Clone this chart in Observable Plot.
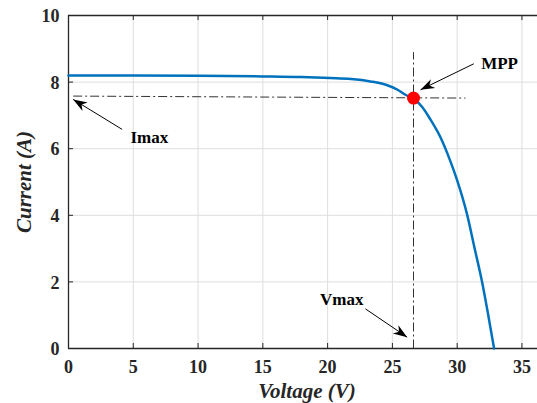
<!DOCTYPE html>
<html><head><meta charset="utf-8">
<script src="https://cdn.jsdelivr.net/npm/d3@7"></script>
<script src="https://cdn.jsdelivr.net/npm/@observablehq/plot@0.6"></script>
<style>
html,body{margin:0;padding:0;background:#fff;overflow:hidden}
</style>
</head><body><div id="chart"></div>
<script>
// I-V curve of the PV module
const voltage = [0, 5, 10, 15, 18, 20.2, 21.8, 23.3, 24.5, 25.4, 26.0, 26.65, 27.3, 27.9, 28.7, 29.45, 30, 30.75, 31.35, 31.9, 32.4, 32.85];
const current = [8.2, 8.2, 8.19, 8.17, 8.15, 8.12, 8.09, 8.02, 7.92, 7.77, 7.62, 7.5, 7.25, 6.9, 6.35, 5.65, 5.05, 4.05, 3.0, 2.04, 1.0, 0];

const xTicks = [0, 5, 10, 15, 20, 25, 30, 35];
const yTicks = [0, 2, 4, 6, 8, 10];

// maximum power point
const mppV = [26.63];
const mppI = [7.52];

// dash-dot guide lines (Vmax vertical, Imax horizontal)
const guideV1 = [26.63, 0.36];
const guideI1 = [0, 7.58];
const guideV2 = [26.63, 30.64];
const guideI2 = [8.9, 7.52];

// annotation arrows
const arrowTailV = [31.28, 4.14, 22.92];
const arrowTailI = [8.55, 6.58, 1.19];
const arrowTipV = [27.17, 0.36, 26.14];
const arrowTipI = [7.77, 7.48, 0.34];

// annotation labels
const labelText = ["MPP", "Imax", "Vmax"];
const labelV = [33.27, 6.24, 21.09];
const labelI = [8.57, 6.32, 1.48];

const W = 537, H = 403, ML = 68, MR = 0, MT = 15, MB = 55;
const xOpts = {type: "linear", domain: [0, 36.2], range: [ML, W - MR]};
const yOpts = {type: "linear", domain: [0, 10], range: [H - MB, MT]};

const sx = Plot.scale({x: xOpts});
const sy = Plot.scale({y: yOpts});
const idx3 = d3.range(labelText.length);
const angles = idx3.map(i => {
  const dx = sx.apply(arrowTipV[i]) - sx.apply(arrowTailV[i]);
  const dy = sy.apply(arrowTipI[i]) - sy.apply(arrowTailI[i]);
  return Math.atan2(dx, -dy) * 180 / Math.PI;
});

const arrowHead = {
  draw(ctx) {
    const L = 14, w = 5;
    ctx.moveTo(0, 0);
    ctx.lineTo(w, L);
    ctx.lineTo(0, L * 0.7);
    ctx.lineTo(-w, L);
    ctx.closePath();
  }
};

const curve = voltage.map((v, i) => ({v, i: current[i]}));
const guides = guideV1.map((_, k) => k);
const axisColor = "#262626";
const serif = "'Liberation Serif', 'Times New Roman', serif";
const pw = W - ML - MR, ph = H - MT - MB;

const plot = Plot.plot({
  width: W, height: H,
  marginLeft: ML, marginRight: MR, marginTop: MT, marginBottom: MB,
  x: {...xOpts, axis: null}, y: {...yOpts, axis: null},
  style: {fontFamily: serif, background: "#fff", overflow: "hidden"},
  marks: [
    Plot.gridX(xTicks, {stroke: "#dedede", strokeOpacity: 1}),
    Plot.gridY(yTicks, {stroke: "#dedede", strokeOpacity: 1}),
    Plot.ruleX(xTicks, {x: d => d, insetTop: ph - 5, stroke: axisColor}),
    Plot.ruleX(xTicks, {x: d => d, insetBottom: ph - 5, stroke: axisColor}),
    Plot.ruleY(yTicks, {y: d => d, insetRight: pw - 5, stroke: axisColor}),
    Plot.ruleX([0], {stroke: axisColor, strokeWidth: 1.3}),
    Plot.ruleY([0, 10], {stroke: axisColor, strokeWidth: 1.3}),
    Plot.text(xTicks, {x: d => d, text: d => String(d), frameAnchor: "bottom", lineAnchor: "middle", textAnchor: "middle", dy: 19, fontSize: 18, fontWeight: "bold", fontFamily: serif, fill: axisColor}),
    Plot.text(yTicks, {y: d => d, text: d => String(d), frameAnchor: "left", lineAnchor: "middle", textAnchor: "end", dx: -9, dy: 1, fontSize: 18, fontWeight: "bold", fontFamily: serif, fill: axisColor}),
    Plot.text(["Voltage (V)"], {frameAnchor: "bottom", lineAnchor: "middle", textAnchor: "middle", dy: 43, dx: 4, fontSize: 21, fontWeight: "bold", fontStyle: "italic", fill: axisColor}),
    Plot.text(["Current (A)"], {frameAnchor: "left", lineAnchor: "middle", textAnchor: "middle", dx: -44, rotate: -90, fontSize: 21, fontWeight: "bold", fontStyle: "italic", fill: axisColor}),
    Plot.link(guides, {x1: k => guideV1[k], y1: k => guideI1[k], x2: k => guideV2[k], y2: k => guideI2[k], stroke: "#333", strokeWidth: 1, strokeDasharray: "9,3,2,3"}),
    Plot.line(curve, {x: "v", y: "i", stroke: "#0072BD", strokeWidth: 2.5, curve: "monotone-x"}),
    Plot.dot(mppV.map((v, k) => k), {x: k => mppV[k], y: k => mppI[k], r: 6.5, fill: "#ff0000", stroke: "none"}),
    Plot.link(idx3, {x1: i => arrowTailV[i], y1: i => arrowTailI[i], x2: i => arrowTipV[i], y2: i => arrowTipI[i], stroke: "#000", strokeWidth: 1}),
    Plot.dot(idx3, {x: i => arrowTipV[i], y: i => arrowTipI[i], symbol: arrowHead, rotate: i => angles[i], fill: "#000", stroke: "none"}),
    Plot.text(idx3, {x: i => labelV[i], y: i => labelI[i], text: i => labelText[i], fontSize: 17, fontWeight: "bold", fill: "#000"})
  ]
});
document.getElementById("chart").appendChild(plot);
</script>
</body></html>
